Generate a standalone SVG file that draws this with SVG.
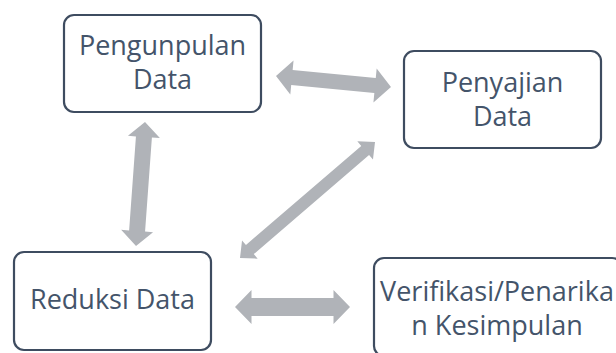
<svg xmlns="http://www.w3.org/2000/svg" width="616" height="353" viewBox="0 0 616 353">
  <style>
    .box { fill: #FFFFFF; stroke: #3E4C60; stroke-width: 2.2; }
    .lbl { font-family: "Open Sans", "Noto Sans", sans-serif; font-size: 27px; fill: #44546A; text-anchor: middle; }
    .arr { fill: #B0B3B8; stroke: none; }
  </style>
  <rect width="616" height="353" fill="#FFFFFF"/>

  <!-- double-headed block arrows -->
  <g id="connectors">
    <path class="arr" transform="translate(276,76) rotate(5.46)" d="M0,0 L16,-17 L16,-7.5 L99.5,-7.5 L99.5,-17 L115.5,0 L99.5,17 L99.5,7.5 L16,7.5 L16,17 Z"/>
    <path class="arr" transform="translate(145,122) rotate(94.15)" d="M0,0 L15,-16 L15,-8 L109.3,-8 L109.3,-16 L124.3,0 L109.3,16 L109.3,8 L15,8 L15,16 Z"/>
    <path class="arr" transform="translate(240,258) rotate(-40.67)" d="M0,0 L13,-12 L13,-6 L165,-6 L165,-12 L178,0 L165,12 L165,6 L13,6 L13,12 Z"/>
    <path class="arr" transform="translate(235,307)" d="M0,0 L16.5,-17 L16.5,-9 L98.5,-9 L98.5,-17 L115,0 L98.5,17 L98.5,9 L16.5,9 L16.5,17 Z"/>
  </g>

  <g id="pengunpulan">
    <rect class="box" x="64" y="15" width="197" height="97" rx="10"/>
    <text class="lbl" x="162.5" y="55">Pengunpulan</text>
    <text class="lbl" x="162.5" y="89">Data</text>
  </g>

  <g id="penyajian">
    <rect class="box" x="404" y="51" width="197" height="97" rx="10"/>
    <text class="lbl" x="502.5" y="92">Penyajian</text>
    <text class="lbl" x="502.5" y="126">Data</text>
  </g>

  <g id="reduksi">
    <rect class="box" x="14" y="252" width="197" height="98" rx="10"/>
    <text class="lbl" x="112.5" y="309">Reduksi Data</text>
  </g>

  <g id="verifikasi">
    <rect class="box" x="374" y="258" width="248" height="98" rx="10"/>
    <text class="lbl" x="497" y="301" font-size="26.5">Verifikasi/Penarika</text>
    <text class="lbl" x="497" y="335" font-size="26.5">n Kesimpulan</text>
  </g>
</svg>
